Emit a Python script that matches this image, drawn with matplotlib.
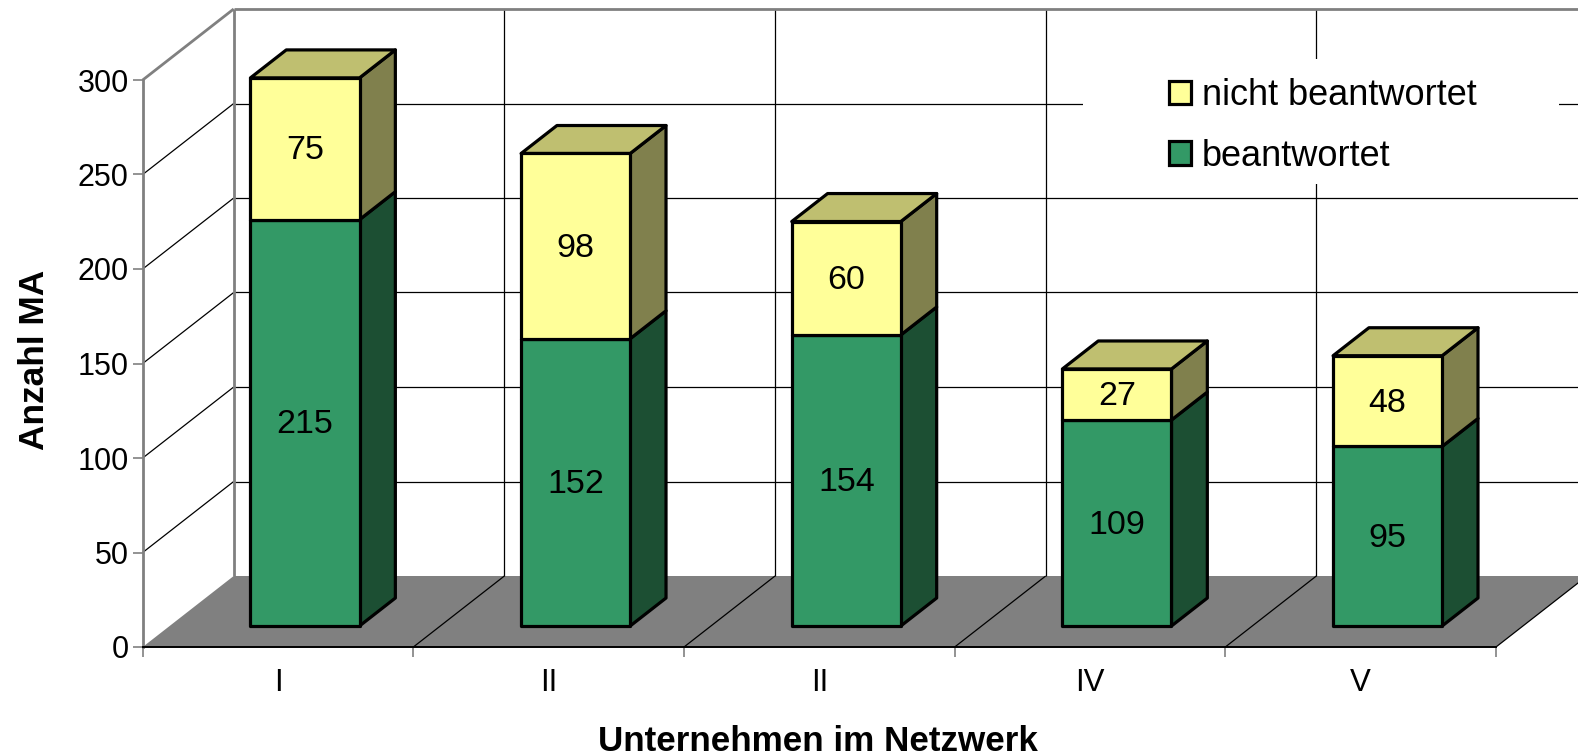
import matplotlib
matplotlib.use("Agg")
import matplotlib.pyplot as plt
from matplotlib.patches import Polygon, Rectangle

plt.rcParams['font.family'] = ['Liberation Sans', 'DejaVu Sans']

categories = ['I', 'II', 'II', 'IV', 'V']
beantwortet = [215, 152, 154, 109, 95]
nicht_beantwortet = [75, 98, 60, 27, 48]
y_ticks = [0, 50, 100, 150, 200, 250, 300]

W, H = 1578, 756
X0, X1, Y0, Y300 = 142.7, 1496.0, 647.0, 80.0
DX_UNITS = 91.0 / ((X1 - X0) / 5)
DY_UNITS = 71.0 / ((Y0 - Y300) / 300)
BAR_W = 0.403
D_FRONT, D_BACK = 0.296, 0.69
GREEN, GREEN_SIDE = '#339966', '#1C4F33'
YEL, YEL_TOP, YEL_SIDE = '#FFFF99', '#BFBF70', '#80804D'
GRAY = '#808080'

fig = plt.figure(figsize=(W / 100, H / 100), dpi=100, facecolor='white')
ax = fig.add_axes([X0 / W, 1 - Y0 / H, (X1 - X0) / W, (Y0 - Y300) / H])
ax.set_xlim(0, 5)
ax.set_ylim(0, 300)
ax.patch.set_visible(False)


def P(x, v, d=0.0):
    return (x + d * DX_UNITS, v + d * DY_UNITS)


def poly(points, fc, ec='none', lw=0.0, z=2):
    ax.add_patch(Polygon(points, closed=True, facecolor=fc, edgecolor=ec,
                         linewidth=lw, clip_on=False, zorder=z, joinstyle='round'))


def line(a, b, c='black', lw=0.9, z=1.5):
    ax.plot([a[0], b[0]], [a[1], b[1]], color=c, lw=lw, clip_on=False,
            zorder=z, solid_capstyle='butt')


def label(x, v, s):
    ax.annotate(s, xy=P(x, v, D_FRONT), xytext=(0, -1.5), textcoords='offset points',
                ha='center', va='center', fontsize=24.5, zorder=20, annotation_clip=False)


# floor
poly([P(0, 0), P(5, 0), P(5, 0, 1), P(0, 0, 1)], GRAY, z=1)
# back wall / side grid
for v in y_ticks[1:-1]:
    line(P(0, v), P(0, v, 1))
    line(P(0, v, 1), P(5, v, 1))
for i in range(1, 6):
    line(P(i, 0), P(i, 0, 1), z=1.2)
    line(P(i, 0, 1), P(i, 300, 1))
# frame in grey
line(P(0, 300), P(0, 300, 1), GRAY, 2)
line(P(0, 300, 1), P(5, 300, 1), GRAY, 2)
line(P(0, 0, 1), P(0, 300, 1), GRAY, 2)

# legend backing
ax.add_patch(Rectangle((1083 / W, 1 - 184 / H), (1559 - 1083) / W, (184 - 58.7) / H,
                       transform=fig.transFigure, facecolor='white', edgecolor='none',
                       zorder=1.8, clip_on=False))

# bars
for i, (g, y) in enumerate(zip(beantwortet, nicht_beantwortet)):
    xl = i + 0.5 - BAR_W / 2
    xr = i + 0.5 + BAR_W / 2
    z = 3 + i
    t = g + y
    poly([P(xr, 0, D_FRONT), P(xr, g, D_FRONT), P(xr, g, D_BACK), P(xr, 0, D_BACK)],
         GREEN_SIDE, 'black', 2.3, z)
    poly([P(xr, g, D_FRONT), P(xr, t, D_FRONT), P(xr, t, D_BACK), P(xr, g, D_BACK)],
         YEL_SIDE, 'black', 2.3, z)
    poly([P(xl, t, D_FRONT), P(xr, t, D_FRONT), P(xr, t, D_BACK), P(xl, t, D_BACK)],
         YEL_TOP, 'black', 2.3, z)
    poly([P(xl, 0, D_FRONT), P(xr, 0, D_FRONT), P(xr, g, D_FRONT), P(xl, g, D_FRONT)],
         GREEN, 'black', 2.3, z)
    poly([P(xl, g, D_FRONT), P(xr, g, D_FRONT), P(xr, t, D_FRONT), P(xl, t, D_FRONT)],
         YEL, 'black', 2.3, z)
    label(i + 0.5, g / 2, str(g))
    label(i + 0.5, g + y / 2, str(y))

# axes
for s in ('top', 'right'):
    ax.spines[s].set_visible(False)
ax.spines['left'].set_color(GRAY)
ax.spines['left'].set_linewidth(2)
ax.spines['bottom'].set_color('black')
ax.spines['bottom'].set_linewidth(1.4)
ax.set_yticks(y_ticks)
ax.tick_params(axis='y', length=7, width=1.2, color=GRAY, labelsize=22, pad=3)
ax.set_xticks(range(6))
ax.set_xticklabels([])
ax.tick_params(axis='x', which='major', length=7.5, width=1.2, color=GRAY)
ax.set_xticks([i + 0.5 for i in range(5)], minor=True)
ax.set_xticklabels(categories, minor=True, fontsize=22.5)
ax.tick_params(axis='x', which='minor', length=0, pad=15)

fig.text(818 / W, 1 - 741.5 / H, 'Unternehmen im Netzwerk', ha='center', va='center',
         fontsize=25.2, fontweight='bold')
fig.text(34.5 / W, 1 - 360 / H, 'Anzahl MA', ha='center', va='center', rotation=90,
         fontsize=25.4, fontweight='bold')

# legend
h1 = Rectangle((0, 0), 1, 1, facecolor=YEL, edgecolor='black', linewidth=2.3)
h2 = Rectangle((0, 0), 1, 1, facecolor=GREEN, edgecolor='black', linewidth=2.3)
leg = ax.legend([h1, h2], ['nicht beantwortet', 'beantwortet'], frameon=False,
                fontsize=26, loc='upper left',
                bbox_to_anchor=(1169 / W, 1 - 78 / H), bbox_transform=fig.transFigure,
                borderpad=0, borderaxespad=0, handlelength=0.62, handleheight=0.62,
                handletextpad=0.3, labelspacing=0.715)
leg.set_zorder(30)

fig.savefig('out.png', dpi=100)
